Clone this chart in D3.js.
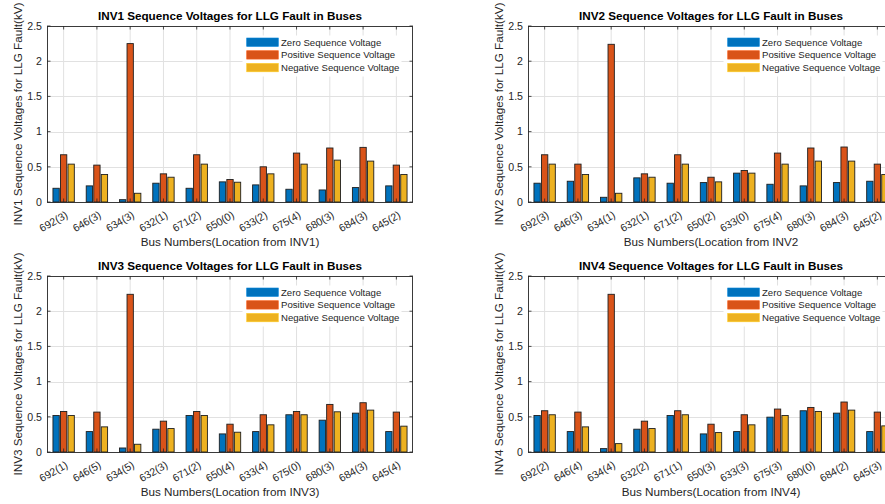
<!DOCTYPE html>
<html>
<head>
<meta charset="utf-8">
<script src="https://cdn.jsdelivr.net/npm/d3@7"></script>
<style>
  html, body { margin: 0; padding: 0; background: #fff; }
  svg { display: block; font-family: "Liberation Sans", Arial, Helvetica, sans-serif; }
</style>
</head>
<body>
<svg id="chart" width="885" height="504"></svg>
<script>
// ---------- data ----------
const seriesNames = ["Zero Sequence Voltage", "Positive Sequence Voltage", "Negative Sequence Voltage"];
const yTicks = [0, 0.5, 1, 1.5, 2, 2.5];
const yTickLabels = ["0", "0.5", "1", "1.5", "2", "2.5"];

const categories1 = ["692(3)","646(3)","634(3)","632(1)","671(2)","650(0)","633(2)","675(4)","680(3)","684(3)","645(2)"];
const categories2 = ["692(3)","646(3)","634(1)","632(1)","671(2)","650(2)","633(0)","675(4)","680(3)","684(3)","645(2)"];
const categories3 = ["692(1)","646(5)","634(5)","632(3)","671(2)","650(4)","633(4)","675(0)","680(3)","684(3)","645(4)"];
const categories4 = ["692(2)","646(4)","634(4)","632(2)","671(1)","650(3)","633(3)","675(3)","680(0)","684(2)","645(3)"];

const inv1Zero = [0.195,0.229,0.033,0.267,0.195,0.286,0.243,0.181,0.171,0.205,0.229];
const inv1Pos  = [0.671,0.524,2.25,0.400,0.671,0.319,0.500,0.695,0.767,0.776,0.524];
const inv1Neg  = [0.538,0.390,0.124,0.352,0.538,0.281,0.400,0.538,0.595,0.581,0.390];

const inv2Zero = [0.267,0.295,0.067,0.343,0.267,0.276,0.410,0.252,0.229,0.276,0.295];
const inv2Pos  = [0.671,0.538,2.24,0.400,0.671,0.352,0.448,0.695,0.767,0.781,0.538];
const inv2Neg  = [0.538,0.390,0.124,0.352,0.538,0.286,0.410,0.538,0.581,0.581,0.390];

const inv3Zero = [0.519,0.290,0.057,0.324,0.519,0.257,0.290,0.529,0.452,0.552,0.290];
const inv3Pos  = [0.576,0.567,2.24,0.438,0.576,0.395,0.529,0.576,0.676,0.700,0.567];
const inv3Neg  = [0.519,0.357,0.110,0.333,0.519,0.281,0.386,0.529,0.571,0.595,0.367];

const inv4Zero = [0.519,0.290,0.048,0.324,0.519,0.257,0.290,0.495,0.586,0.552,0.290];
const inv4Pos  = [0.586,0.567,2.24,0.438,0.586,0.395,0.529,0.610,0.633,0.710,0.567];
const inv4Neg  = [0.529,0.357,0.119,0.333,0.529,0.276,0.386,0.519,0.576,0.595,0.371];

const titles = [
  "INV1 Sequence Voltages for LLG Fault in Buses",
  "INV2 Sequence Voltages for LLG Fault in Buses",
  "INV3 Sequence Voltages for LLG Fault in Buses",
  "INV4 Sequence Voltages for LLG Fault in Buses"
];
const yLabels = [
  "INV1 Sequence Voltages for LLG Fault(kV)",
  "INV2 Sequence Voltages for LLG Fault(kV)",
  "INV3 Sequence Voltages for LLG Fault(kV)",
  "INV4 Sequence Voltages for LLG Fault(kV)"
];
const xLabels = [
  "Bus Numbers(Location from INV1)",
  "Bus Numbers(Location from INV2",
  "Bus Numbers(Location from INV3)",
  "Bus Numbers(Location from INV4)"
];

// ---------- layout / style ----------
const colors = ["#0072BD", "#D95319", "#EDB120"];
const axisColor = "#262626";
const gridColor = "#e1e1e1";
const W = 366, H = 176;
const panels = [
  { left: 47,  top: 26,  cats: categories1, vals: [inv1Zero, inv1Pos, inv1Neg] },
  { left: 528, top: 26,  cats: categories2, vals: [inv2Zero, inv2Pos, inv2Neg] },
  { left: 47,  top: 276, cats: categories3, vals: [inv3Zero, inv3Pos, inv3Neg] },
  { left: 528, top: 276, cats: categories4, vals: [inv4Zero, inv4Pos, inv4Neg] }
];

const svg = d3.select("#chart");

panels.forEach((p, pi) => {
  const g = svg.append("g").attr("transform", `translate(${p.left},${p.top})`);
  const x = d3.scaleBand().domain(p.cats).range([0, W]).paddingInner(0).paddingOuter(0);
  const y = d3.scaleLinear().domain([0, 2.5]).range([H, 0]);
  const bw = x.bandwidth();
  const pitch = bw * 0.226;
  const barW = bw * 0.19;

  // grid
  g.append("g").selectAll("line.h").data(yTicks.slice(1, -1)).join("line")
    .attr("x1", 0).attr("x2", W)
    .attr("y1", d => Math.round(y(d)) + 0.5).attr("y2", d => Math.round(y(d)) + 0.5)
    .attr("stroke", gridColor).attr("stroke-width", 1);
  g.append("g").selectAll("line.v").data(p.cats).join("line")
    .attr("x1", d => x(d) + bw / 2).attr("x2", d => x(d) + bw / 2)
    .attr("y1", 0).attr("y2", H)
    .attr("stroke", gridColor).attr("stroke-width", 1);

  // bars
  p.vals.forEach((arr, si) => {
    g.append("g").selectAll("rect").data(arr).join("rect")
      .attr("x", (d, i) => x(p.cats[i]) + bw / 2 + (si - 1) * pitch - barW / 2)
      .attr("y", d => y(d))
      .attr("width", barW)
      .attr("height", d => y(0) - y(d))
      .attr("fill", colors[si])
      .attr("stroke", "#1e1e1e")
      .attr("stroke-width", 0.9);
  });

  // x ticks (inside, bottom & top)
  g.append("g").selectAll("line").data(p.cats).join("line")
    .attr("x1", d => x(d) + bw / 2).attr("x2", d => x(d) + bw / 2)
    .attr("y1", H).attr("y2", H - 3.5)
    .attr("stroke", axisColor).attr("stroke-width", 0.8);
  g.append("g").selectAll("line").data(p.cats).join("line")
    .attr("x1", d => x(d) + bw / 2).attr("x2", d => x(d) + bw / 2)
    .attr("y1", 0).attr("y2", 3.5)
    .attr("stroke", axisColor).attr("stroke-width", 0.8);
  // y ticks (inside, left & right)
  g.append("g").selectAll("line").data(yTicks).join("line")
    .attr("x1", 0).attr("x2", 3.5)
    .attr("y1", d => y(d)).attr("y2", d => y(d))
    .attr("stroke", axisColor).attr("stroke-width", 0.8);
  g.append("g").selectAll("line").data(yTicks).join("line")
    .attr("x1", W).attr("x2", W - 3.5)
    .attr("y1", d => y(d)).attr("y2", d => y(d))
    .attr("stroke", axisColor).attr("stroke-width", 0.8);

  // box
  g.append("rect").attr("x", 0.5).attr("y", 0.5).attr("width", W - 1).attr("height", H)
    .attr("fill", "none").attr("stroke", axisColor).attr("stroke-width", 0.9);

  // y tick labels
  g.append("g").selectAll("text").data(yTicks).join("text")
    .attr("x", -5).attr("y", d => y(d)).attr("dy", "0.36em")
    .attr("text-anchor", "end").attr("font-size", 10.6).attr("fill", axisColor)
    .text((d, i) => yTickLabels[i]);

  // x tick labels (rotated)
  g.append("g").selectAll("text").data(p.cats).join("text")
    .attr("text-anchor", "end").attr("font-size", 10.6).attr("fill", axisColor)
    .attr("transform", d => `translate(${x(d) + bw / 2 + 5},${H + 15}) rotate(-30)`)
    .text(d => d);

  // axis labels
  g.append("text").attr("x", W / 2).attr("y", H + 44)
    .attr("text-anchor", "middle").attr("font-size", 11.7).attr("fill", axisColor)
    .text(xLabels[pi]);
  g.append("text")
    .attr("transform", `translate(-25.5,${H / 2}) rotate(-90)`)
    .attr("text-anchor", "middle").attr("font-size", 11.7).attr("fill", axisColor)
    .text(yLabels[pi]);

  // title
  g.append("text").attr("x", W / 2).attr("y", -6.5)
    .attr("text-anchor", "middle").attr("font-size", 11.7).attr("font-weight", "bold")
    .attr("fill", "#000").text(titles[pi]);

  // legend
  const lg = g.append("g").attr("transform", "translate(196,10)");
  lg.append("rect").attr("x", 0).attr("y", 0).attr("width", 158).attr("height", 40)
    .attr("fill", "#fff").attr("stroke", "#fff");
  seriesNames.forEach((name, si) => {
    const cy = 6.2 + si * 12.7;
    lg.append("rect").attr("x", 3.7).attr("y", cy - 4.2).attr("width", 31.6).attr("height", 8.4)
      .attr("fill", colors[si]).attr("stroke", d3.color(colors[si]).brighter(0.4)).attr("stroke-width", 0.6);
    lg.append("text").attr("x", 38).attr("y", cy).attr("dy", "0.36em")
      .attr("font-size", 9.6).attr("fill", axisColor).text(name);
  });
});
</script>
</body>
</html>
